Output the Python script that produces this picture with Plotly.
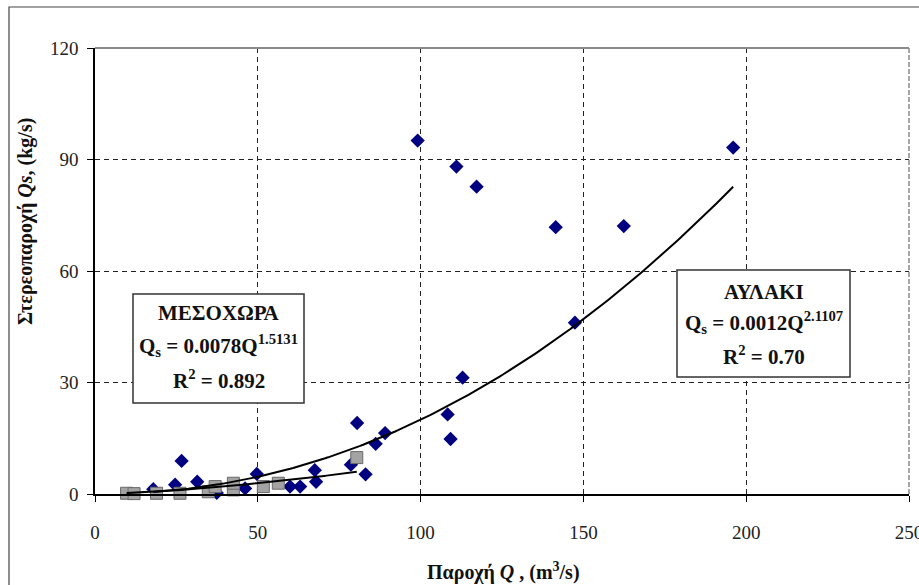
import numpy as np
import plotly.graph_objects as go

# ---- data ----
aylaki_Q = [17.9, 24.6, 26.6, 31.4, 37.4, 46.1, 49.7, 59.9, 63.0, 67.5, 67.9, 78.6, 80.5,
            83.1, 86.2, 89.1, 99.1, 108.3, 109.2, 111.0, 112.9, 117.2, 141.5, 147.4, 162.4, 196.0]
aylaki_Qs = [1.3, 2.5, 8.9, 3.3, 0.3, 1.5, 5.4, 2.0, 2.0, 6.4, 3.3, 7.9, 19.1,
             5.3, 13.5, 16.4, 95.1, 21.4, 14.8, 88.1, 31.3, 82.7, 71.8, 46.1, 72.1, 93.2]

mesoxora_Q = [9.7, 12.0, 18.9, 26.1, 34.8, 36.9, 42.5, 42.5, 51.7, 56.3, 80.4]
mesoxora_Qs = [0.2, 0.1, 0.2, 0.2, 0.6, 2.0, 1.1, 2.9, 2.0, 2.9, 9.8]

aylaki_coef, aylaki_exp = 0.0012, 2.1107
mesoxora_coef, mesoxora_exp = 0.0078, 1.5131

x_ticks = [0, 50, 100, 150, 200, 250]
y_ticks = [0, 30, 60, 90, 120]

# ---- figure geometry helpers (pixel -> paper) ----
W, H = 919, 585
L, R, T, B = 95, 10, 48, 91
PW, PH = W - L - R, H - T - B


def px(x):
    return (x - L) / PW


def py(y):
    return (H - B - y) / PH


SERIF = "Liberation Serif, Times New Roman, serif"

fig = go.Figure()

fig.add_trace(go.Scatter(
    x=aylaki_Q, y=aylaki_Qs, mode="markers", name="ΑΥΛΑΚΙ",
    marker=dict(symbol="diamond", size=11, color="#000080",
                line=dict(width=0)),
    cliponaxis=False,
))
fig.add_trace(go.Scatter(
    x=mesoxora_Q, y=mesoxora_Qs, mode="markers", name="ΜΕΣΟΧΩΡΑ",
    marker=dict(symbol="square", size=12, color="#a3a3a3",
                line=dict(width=1, color="#6a6a6a")),
    cliponaxis=False,
))

qa = np.linspace(min(aylaki_Q), max(aylaki_Q), 200)
fig.add_trace(go.Scatter(x=qa, y=aylaki_coef * qa ** aylaki_exp, mode="lines",
                         line=dict(color="black", width=2), hoverinfo="skip"))
qm = np.linspace(min(mesoxora_Q), max(mesoxora_Q), 100)
fig.add_trace(go.Scatter(x=qm, y=mesoxora_coef * qm ** mesoxora_exp, mode="lines",
                         line=dict(color="black", width=2), hoverinfo="skip"))

axis_common = dict(
    showgrid=True, gridcolor="#222222", gridwidth=1, griddash="5px,4px",
    showline=True, linecolor="black", linewidth=1.5,
    ticks="outside", ticklen=6, tickcolor="black", tickwidth=1.2,
    zeroline=False, ticklabeloverflow="allow", automargin=False,
    tickfont=dict(family=SERIF, size=19, color="#222222"),
)

fig.update_layout(
    width=W, height=H,
    margin=dict(l=L, r=R, t=T, b=B),
    paper_bgcolor="white", plot_bgcolor="white",
    showlegend=False,
    xaxis=dict(range=[0, 250], tickvals=x_ticks, ticklabelstandoff=14, **axis_common),
    yaxis=dict(range=[0, 120], tickvals=y_ticks, ticklabelstandoff=5, **axis_common),
)

shapes = []
# outer frame
shapes.append(dict(type="rect", xref="paper", yref="paper",
                   x0=px(9), x1=px(935), y0=py(600), y1=py(7),
                   line=dict(color="#444444", width=1.2), fillcolor="rgba(0,0,0,0)", layer="below"))
# top and right border of plot area (gray)
shapes.append(dict(type="line", xref="paper", yref="paper",
                   x0=0, x1=1, y0=1, y1=1, line=dict(color="#8a8a8a", width=2), layer="above"))
shapes.append(dict(type="line", xref="paper", yref="paper",
                   x0=1, x1=1, y0=0, y1=1, line=dict(color="#8a8a8a", width=1.5, dash="5px,2px"),
                   layer="above"))
# equation boxes
shapes.append(dict(type="rect", xref="paper", yref="paper",
                   x0=px(133), x1=px(304), y0=py(403), y1=py(294),
                   line=dict(color="#333333", width=1.5), fillcolor="white", layer="above"))
shapes.append(dict(type="rect", xref="paper", yref="paper",
                   x0=px(677), x1=px(850), y0=py(377), y1=py(270),
                   line=dict(color="#333333", width=1.5), fillcolor="white", layer="above"))
fig.update_layout(shapes=shapes)

box_font = dict(family=SERIF, size=21, color="#111111")
ann = []


def text(xp, yp, s, font=box_font, angle=0):
    ann.append(dict(xref="paper", yref="paper", x=px(xp), y=py(yp), text=s,
                    showarrow=False, xanchor="center", yanchor="middle",
                    font=font, textangle=angle))


text(218.5, 313, "<b>ΜΕΣΟΧΩΡΑ</b>")
text(218.5, 346, "<b>Q<sub>s</sub> = %.4fQ<sup>%.4f</sup></b>" % (mesoxora_coef, mesoxora_exp))
text(218.5, 380, "<b>R<sup>2</sup> = 0.892</b>")

text(763.5, 292, "<b>ΑΥΛΑΚΙ</b>")
text(763.5, 322, "<b>Q<sub>s</sub> = %.4fQ<sup>%.4f</sup></b>" % (aylaki_coef, aylaki_exp))
text(763.5, 355, "<b>R<sup>2</sup> = 0.70</b>")

title_font = dict(family=SERIF, size=20, color="#111111")
text(503, 571, "<b>Παροχή <i>Q</i> , (m<sup>3</sup>/s)</b>", font=title_font)
text(25, 222, "<b>Στερεοπαροχή <i>Qs</i>, (kg/s)</b>", font=title_font, angle=-90)

fig.update_layout(annotations=ann)

fig.write_html("out.html", config={"displayModeBar": False},
               post_script="document.body.style.margin='0px';document.body.style.overflow='hidden';")
